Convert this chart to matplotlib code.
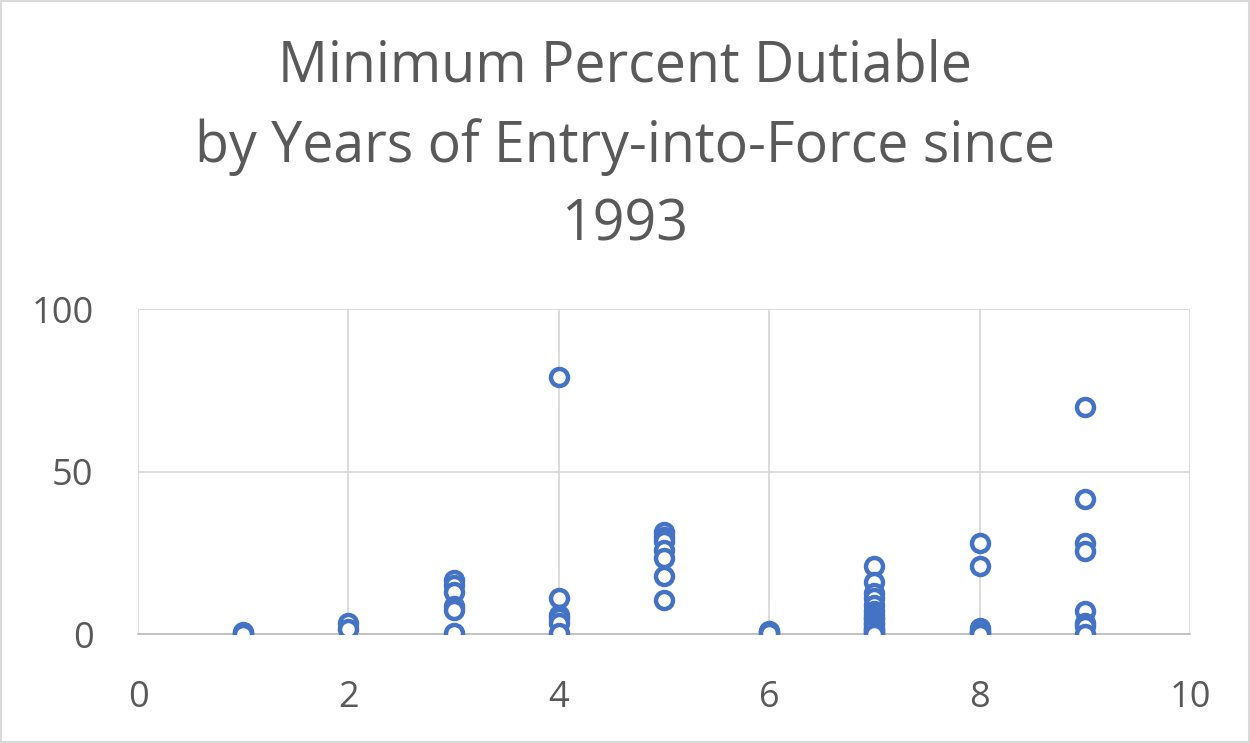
import matplotlib.pyplot as plt
from matplotlib.patches import Rectangle

# years of entry-into-force since 1993 and minimum percent dutiable
years = [1, 1, 1,
         2, 2,
         3, 3, 3, 3, 3, 3,
         4, 4, 4, 4, 4, 4,
         5, 5, 5, 5, 5, 5, 5,
         6, 6, 6,
         7, 7, 7, 7, 7, 7, 7, 7, 7, 7, 7, 7, 7, 7, 7, 7,
         8, 8, 8, 8, 8, 8,
         9, 9, 9, 9, 9, 9, 9, 9]
pct = [0.5, 0.2, 0,
       3.5, 1.5,
       16.5, 15, 12.8, 8.5, 7.5, 0.3,
       79, 11, 6, 5, 3.5, 0.2,
       31.5, 30, 28.5, 26, 23.5, 18, 10.5,
       1, 0.5, 0.2,
       21, 16, 12.5, 11, 9, 7, 6, 5, 4.5, 3.5, 3, 2, 1.5, 1, 0.5, 0,
       28, 20.8, 2, 1, 0.5, 0,
       70, 41.5, 28, 25.5, 7, 3.5, 2.5, 0]

title_lines = ["Minimum Percent Dutiable", "by Years of Entry-into-Force since", "1993"]

grey = "#595959"
blue = "#4472C4"
plt.rcParams["font.family"] = ["Open Sans", "DejaVu Sans"]

fig = plt.figure(figsize=(12.5, 7.43), dpi=100)
ax = fig.add_axes([0.1104, 0.1467, 0.8416, 0.4374])

ax.scatter(years, pct, s=150, facecolors="white", edgecolors=blue,
           linewidths=3.2, zorder=3)

ax.set_xlim(0, 10)
ax.set_ylim(0, 100)
ax.set_xticks([0, 2, 4, 6, 8, 10])
ax.set_yticks([0, 50, 100])
ax.grid(True, color="#d9d9d9", linewidth=1.3)
ax.set_axisbelow(True)
for side in ["top", "right", "left"]:
    ax.spines[side].set_visible(False)
ax.spines["bottom"].set_color("#bfbfbf")
ax.spines["bottom"].set_linewidth(1.3)
ax.tick_params(length=0, labelsize=26, labelcolor=grey)
ax.tick_params(axis="x", pad=33)
ax.tick_params(axis="y", pad=32)

for i, line in enumerate(title_lines):
    fig.text(0.5, 1 - (68 + 79 * i) / 743, line, ha="center", va="center",
             fontsize=40, color=grey)

fig.patches.append(Rectangle((0.001, 0.001), 0.998, 0.997, transform=fig.transFigure,
                             fill=False, edgecolor="#d9d9d9", linewidth=1.5))

fig.savefig("out.png", dpi=100)
